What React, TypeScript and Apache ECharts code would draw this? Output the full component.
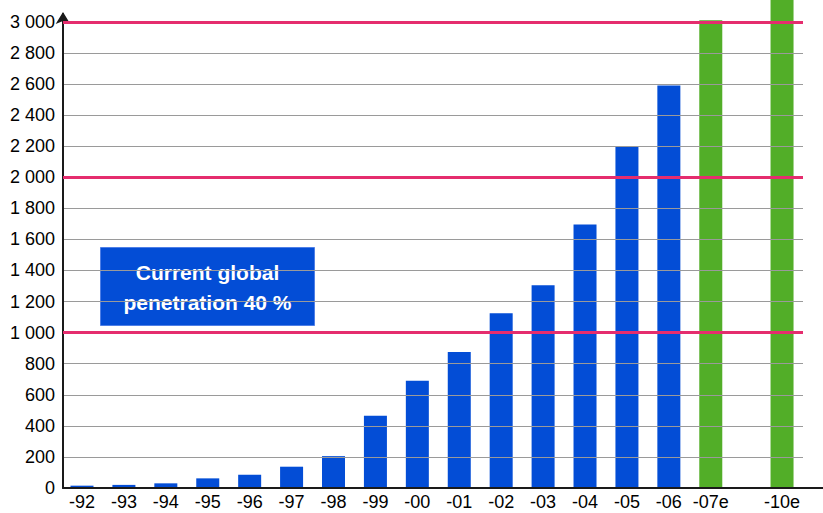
import React, { useEffect, useRef } from "react";
import * as echarts from "echarts";

const categories = ["-92", "-93", "-94", "-95", "-96", "-97", "-98", "-99", "-00", "-01", "-02", "-03", "-04", "-05", "-06", "-07e", "-10e"];
// position of each category on the x scale, in bar slots (the -10e bar stands after a gap)
const slots = [0, 1, 2, 3, 4, 5, 6, 7, 8, 9, 10, 11, 12, 13, 14, 15, 16.7];
const values = [15, 20, 30, 62, 85, 137, 205, 465, 690, 875, 1125, 1305, 1695, 2195, 2590, 3010, 4000];
const referenceLines = [1000, 2000, 3000];
const annotation = ["Current global", "penetration 40 %"];

const BLUE = "#034dd6";
const GREEN = "#52ae28";
const RED = "#e52d6e";
const FONT = "Liberation Sans, Arial, sans-serif";

export default function App() {
  const ref = useRef<HTMLDivElement>(null);
  useEffect(() => {
    if (!ref.current) return;
    const chart = echarts.init(ref.current, null, { renderer: "svg" });
    const fmt = (v: number) =>
      v % 200 === 0 ? String(v).replace(/\B(?=(\d{3})+(?!\d))/g, " ") : "";
    chart.setOption({
      animation: false,
      backgroundColor: "#ffffff",
      grid: { left: 63, right: 20, top: 14, bottom: 25, containLabel: false },
      xAxis: {
        type: "value",
        min: -0.453,
        max: 17.2,
        axisLine: { show: true, onZero: false, lineStyle: { color: "#1a1a1a", width: 2 } },
        axisTick: { show: false },
        axisLabel: { show: false },
        splitLine: { show: false },
        z: 3,
      },
      yAxis: {
        type: "value",
        min: 0,
        max: 3050,
        interval: 200,
        z: 3,
        axisLine: {
          show: true,
          onZero: false,
          lineStyle: { color: "#1a1a1a", width: 2 },
          symbol: ["none", "arrow"],
          symbolSize: [11, 12],
          symbolOffset: [0, 2],
        },
        axisTick: { show: false },
        axisLabel: {
          formatter: fmt,
          color: "#000",
          fontFamily: FONT,
          fontSize: 18,
          margin: 8,
          showMaxLabel: false,
        },
        splitLine: { show: true, showMaxLine: false, lineStyle: { color: "#9a9a9a", width: 1 } },
      },
      series: [
        {
          type: "bar",
          barWidth: 23,
          clip: false,
          z: 2,
          data: categories.map((c, i) => ({
            value: [slots[i], values[i]],
            itemStyle: { color: c.endsWith("e") ? GREEN : BLUE },
          })),
          label: {
            show: true,
            position: "bottom",
            distance: 5,
            formatter: (p: any) => categories[p.dataIndex],
            color: "#000",
            fontFamily: FONT,
            fontSize: 18,
          },
        },
        {
          type: "line",
          data: [],
          z: 5,
          markLine: {
            silent: true,
            symbol: "none",
            label: { show: false },
            lineStyle: { color: RED, width: 3, type: "solid" },
            data: referenceLines.map((y) => ({ yAxis: y })),
          },
        },
      ],
      graphic: [
        {
          type: "line",
          shape: { x1: 803, y1: 488, x2: 823, y2: 488 },
          style: { stroke: "#1a1a1a", lineWidth: 2 },
          z: 10,
        },
        {
          type: "group",
          left: 100,
          top: 247,
          z: 10,
          children: [
            {
              type: "rect",
              shape: { x: 0, y: 0, width: 214, height: 78 },
              style: { fill: BLUE, stroke: "#4f7fe6", lineWidth: 1 },
            },
            {
              type: "text",
              x: 107,
              y: 40,
              style: {
                text: annotation.join("\n"),
                fill: "#ffffff",
                font: `bold 21px ${FONT}`,
                textAlign: "center",
                textVerticalAlign: "middle",
                lineHeight: 30,
              },
            },
          ],
        },
      ],
    });
    return () => chart.dispose();
  }, []);
  return <div ref={ref} style={{ position: "fixed", left: 0, top: 0, width: 823, height: 513 }} />;
}
